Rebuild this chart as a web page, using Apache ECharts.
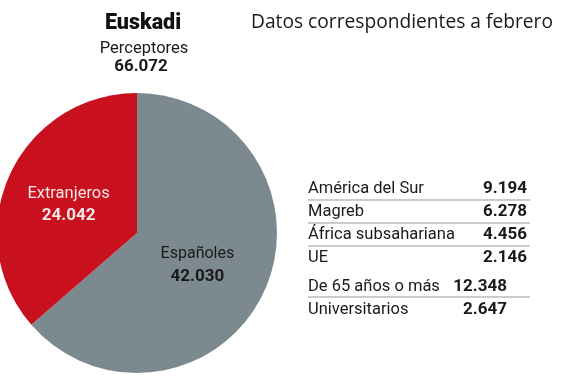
<!DOCTYPE html>
<html><head><meta charset="utf-8">
<script src="https://cdn.jsdelivr.net/npm/echarts@6/dist/echarts.min.js"></script>
<style>html,body{margin:0;padding:0;background:#fff}#c{width:575px;height:380px}</style>
</head><body><div id="c"></div>
<script>
const pieNames = ['Españoles', 'Extranjeros'];
const pieValues = [42030, 24042];
const totalLabel = '66.072';
const tableLabels = ['América del Sur', 'Magreb', 'África subsahariana', 'UE', 'De 65 años o más', 'Universitarios'];
const tableValues = ['9.194', '6.278', '4.456', '2.146', '12.348', '2.647'];

const FONT = 'Roboto';
const chart = echarts.init(document.getElementById('c'));

const graphic = [];
const rowY = [189, 212, 235, 258, 287, 310];
const valueX = [527, 527, 527, 527, 507, 507];
tableLabels.forEach((t, i) => {
  graphic.push({type: 'text', x: 308, y: rowY[i],
    style: {text: t, font: '16.5px ' + FONT, fill: '#1a1a1a', textVerticalAlign: 'middle'}});
  graphic.push({type: 'text', x: valueX[i], y: rowY[i],
    style: {text: tableValues[i], font: 'bold 17px ' + FONT, fill: '#1a1a1a', textAlign: 'right', textVerticalAlign: 'middle'}});
});
[200, 223, 246, 297].forEach(y => {
  graphic.push({type: 'line', shape: {x1: 308, y1: y, x2: 530, y2: y},
    style: {stroke: '#9a9a9a', lineWidth: 1.2}});
});

chart.setOption({
  backgroundColor: '#ffffff',
  animation: false,
  title: [
    {text: 'Euskadi', left: 138, top: 8, textAlign: 'center',
      textStyle: {fontFamily: FONT, fontWeight: 900, fontSize: 21.5, color: '#111'}},
    {text: 'Perceptores', left: 139, top: 35, textAlign: 'center',
      textStyle: {fontFamily: FONT, fontWeight: 'normal', fontSize: 16.5, color: '#1a1a1a'}},
    {text: totalLabel, left: 136, top: 53, textAlign: 'center',
      textStyle: {fontFamily: FONT, fontWeight: 'bold', fontSize: 17, color: '#1a1a1a'}},
    {text: 'Datos correspondientes a febrero', left: 246, top: 8,
      textStyle: {fontFamily: 'Open Sans', fontWeight: 'normal', fontSize: 19.2, color: '#1a1a1a'}}
  ],
  graphic: graphic,
  series: [{
    type: 'pie',
    center: [137, 233],
    radius: [0, 140],
    startAngle: 90,
    clockwise: true,
    silent: true,
    labelLine: {show: false},
    data: pieNames.map((n, i) => ({
      name: n, value: pieValues[i],
      itemStyle: {color: i === 0 ? '#7c8a8f' : '#c8101e'},
      label: {
        show: true, position: 'inside',
        offset: i === 0 ? [-6, 2] : [-2, 2],
        formatter: p => '{a|' + p.name + '}\n{b|' + p.value.toLocaleString('de-DE') + '}',
        rich: {
          a: {fontFamily: FONT, fontSize: i === 0 ? 16 : 16.5, color: i === 0 ? '#1a1a1a' : '#f6e6e6', lineHeight: 22},
          b: {fontFamily: FONT, fontSize: 17, fontWeight: 'bold', color: i === 0 ? '#1a1a1a' : '#f6e6e6', lineHeight: 22}
        }
      }
    }))
  }]
});
</script></body></html>
